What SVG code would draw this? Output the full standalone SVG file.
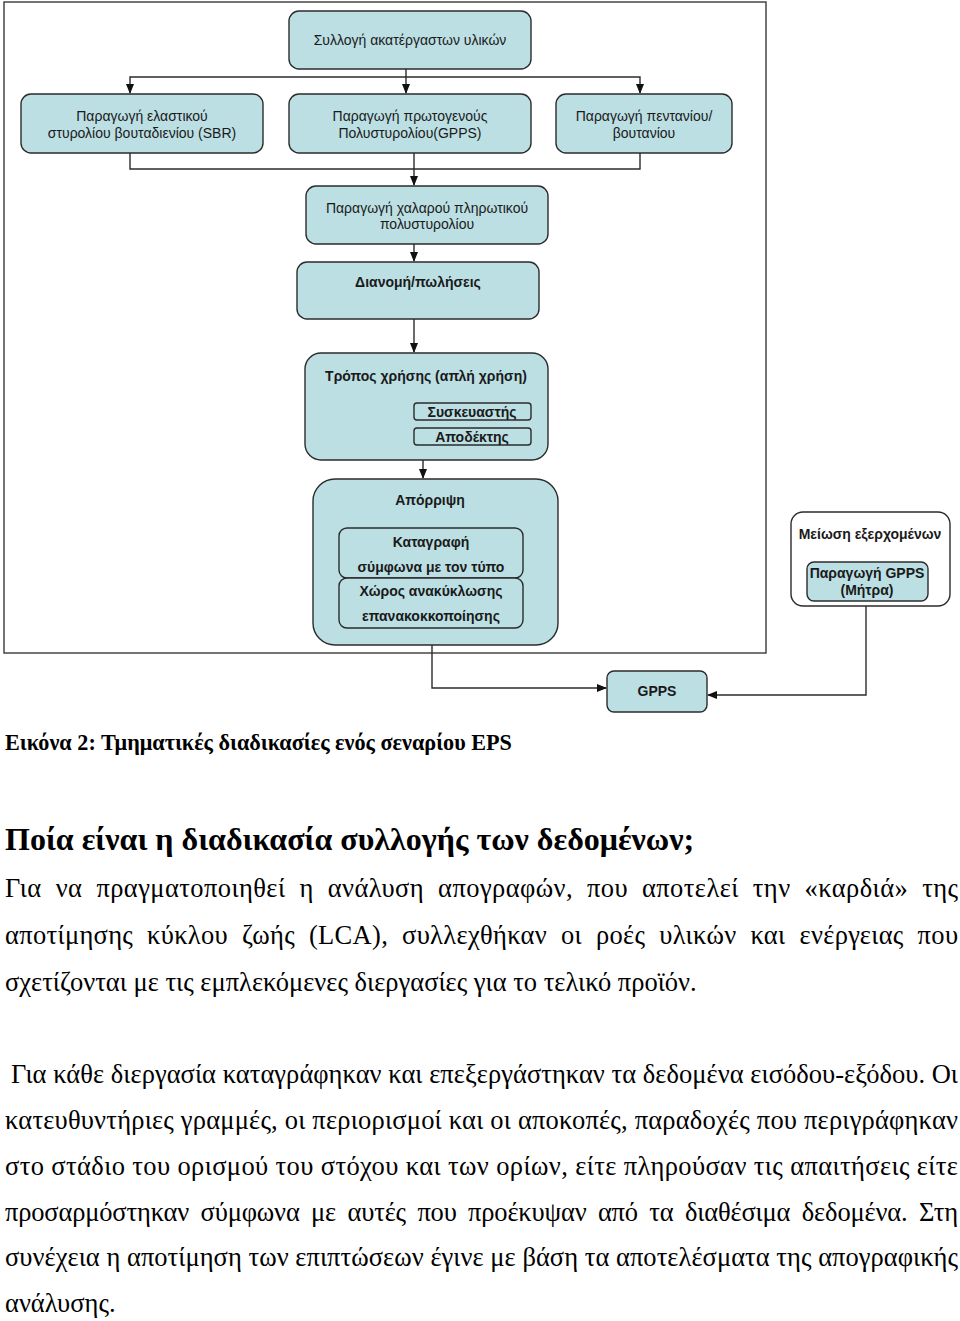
<svg xmlns="http://www.w3.org/2000/svg" width="960" height="1321" viewBox="0 0 960 1321">
<defs>
<marker id="arr" markerWidth="10" markerHeight="8" refX="9" refY="4" orient="auto" markerUnits="userSpaceOnUse">
<path d="M0,0 L10,4 L0,8 Z" fill="#111"/>
</marker>
<style>
.box{fill:#bcdfe3;stroke:#2b2b2b;stroke-width:1.4}
.wbox{fill:#ffffff;stroke:#2b2b2b;stroke-width:1.4}
.t{font-family:"Liberation Sans",Arial,sans-serif;font-size:14px;fill:#1a1a1a;text-anchor:middle}
.b{font-weight:bold}
.con{fill:none;stroke:#2b2b2b;stroke-width:1.4}
.serif{font-family:"Liberation Serif","Times New Roman",serif;fill:#000}
.p{font-size:26.5px}
</style>
</defs>
<rect x="0" y="0" width="960" height="1321" fill="#ffffff"/>
<rect id="frame" x="4" y="2" width="762" height="651" fill="none" stroke="#3a3a3a" stroke-width="1.4"/>

<g id="connectors">
<path class="con" d="M406,69 V93" marker-end="url(#arr)"/>
<path class="con" d="M406,77 H130 V93" marker-end="url(#arr)"/>
<path class="con" d="M406,77 H640 V93" marker-end="url(#arr)"/>
<path class="con" d="M130,153 V169 H640 V153"/>
<path class="con" d="M414,153 V185" marker-end="url(#arr)"/>
<path class="con" d="M414,244 V261" marker-end="url(#arr)"/>
<path class="con" d="M414,319 V352" marker-end="url(#arr)"/>
<path class="con" d="M423,460 V478" marker-end="url(#arr)"/>
<path class="con" d="M432,645 V688 H606" marker-end="url(#arr)"/>
<path class="con" d="M866,601 V695 H708" marker-end="url(#arr)"/>
</g>

<g id="n_collect">
<rect class="box" x="289" y="11" width="242" height="58" rx="10"/>
<text class="t" x="410" y="45">Συλλογή ακατέργαστων υλικών</text>
</g>
<g id="n_sbr">
<rect class="box" x="21" y="94" width="242" height="59" rx="10"/>
<text class="t" x="142" y="121">Παραγωγή ελαστικού</text>
<text class="t" x="142" y="138">στυρολίου βουταδιενίου (SBR)</text>
</g>
<g id="n_gpps1">
<rect class="box" x="289" y="94" width="242" height="59" rx="10"/>
<text class="t" x="410" y="121">Παραγωγή πρωτογενούς</text>
<text class="t" x="410" y="138">Πολυστυρολίου(GPPS)</text>
</g>
<g id="n_pentane">
<rect class="box" x="556" y="94" width="176" height="59" rx="10"/>
<text class="t" x="644" y="121">Παραγωγή πεντανίου/</text>
<text class="t" x="644" y="138">βουτανίου</text>
</g>
<g id="n_loose">
<rect class="box" x="306" y="186" width="242" height="58" rx="10"/>
<text class="t" x="427" y="213">Παραγωγή χαλαρού πληρωτικού</text>
<text class="t" x="427" y="229">πολυστυρολίου</text>
</g>
<g id="n_dist">
<rect class="box" x="297" y="262" width="242" height="57" rx="10"/>
<text class="t b" x="418" y="287">Διανομή/πωλήσεις</text>
</g>
<g id="n_use">
<rect class="box" x="305" y="353" width="243" height="107" rx="16"/>
<text class="t b" x="426" y="381">Τρόπος χρήσης (απλή χρήση)</text>
<rect class="box" x="414" y="403" width="117" height="17" rx="3"/>
<text class="t b" x="472" y="417">Συσκευαστής</text>
<rect class="box" x="414" y="428" width="117" height="17" rx="3"/>
<text class="t b" x="472" y="442">Αποδέκτης</text>
</g>
<g id="n_disposal">
<rect class="box" x="313" y="479" width="245" height="166" rx="22"/>
<text class="t b" x="430" y="505">Απόρριψη</text>
<rect class="box" x="339" y="528" width="184" height="50" rx="8"/>
<text class="t b" x="431" y="547">Καταγραφή</text>
<text class="t b" x="431" y="572">σύμφωνα με τον τύπο</text>
<rect class="box" x="339" y="578" width="184" height="50" rx="8"/>
<text class="t b" x="431" y="596">Χώρος ανακύκλωσης</text>
<text class="t b" x="431" y="621">επανακοκκοποίησης</text>
</g>
<g id="n_reduce">
<rect class="wbox" x="791" y="512" width="159" height="94" rx="12"/>
<text class="t b" x="870" y="539">Μείωση εξερχομένων</text>
<rect class="box" x="807" y="562" width="121" height="39" rx="7"/>
<text class="t b" x="867" y="578">Παραγωγή GPPS</text>
<text class="t b" x="867" y="595">(Μήτρα)</text>
</g>
<g id="n_gpps">
<rect class="box" x="607" y="671" width="100" height="41" rx="7"/>
<text class="t b" x="657" y="696">GPPS</text>
</g>

<text class="serif" x="5" y="750" font-size="22.2" font-weight="bold">Εικόνα 2: Τμηματικές διαδικασίες ενός σεναρίου EPS</text>
<text class="serif" x="5" y="850" font-size="32" font-weight="bold">Ποία είναι η διαδικασία συλλογής των δεδομένων;</text>

<text class="serif p" x="5" y="897" word-spacing="7" textLength="953" lengthAdjust="spacing">Για να πραγματοποιηθεί η ανάλυση απογραφών, που αποτελεί την «καρδιά» της</text>
<text class="serif p" x="5" y="944" word-spacing="7" textLength="953" lengthAdjust="spacing">αποτίμησης κύκλου ζωής (LCA), συλλεχθήκαν οι ροές υλικών και ενέργειας που</text>
<text class="serif p" x="5" y="991">σχετίζονται με τις εμπλεκόμενες διεργασίες για το τελικό προϊόν.</text>

<text class="serif p" x="11" y="1083" textLength="947" lengthAdjust="spacing">Για κάθε διεργασία καταγράφηκαν και επεξεργάστηκαν τα δεδομένα εισόδου-εξόδου. Οι</text>
<text class="serif p" x="5" y="1129" textLength="953" lengthAdjust="spacing">κατευθυντήριες γραμμές, οι περιορισμοί και οι αποκοπές, παραδοχές που περιγράφηκαν</text>
<text class="serif p" x="5" y="1175" textLength="953" lengthAdjust="spacing">στο στάδιο του ορισμού του στόχου και των ορίων, είτε πληρούσαν τις απαιτήσεις είτε</text>
<text class="serif p" x="5" y="1221" word-spacing="5" textLength="953" lengthAdjust="spacing">προσαρμόστηκαν σύμφωνα με αυτές που προέκυψαν από τα διαθέσιμα δεδομένα. Στη</text>
<text class="serif p" x="5" y="1266" textLength="953" lengthAdjust="spacing">συνέχεια η αποτίμηση των επιπτώσεων έγινε με βάση τα αποτελέσματα της απογραφικής</text>
<text class="serif p" x="5" y="1312">ανάλυσης.</text>
</svg>
